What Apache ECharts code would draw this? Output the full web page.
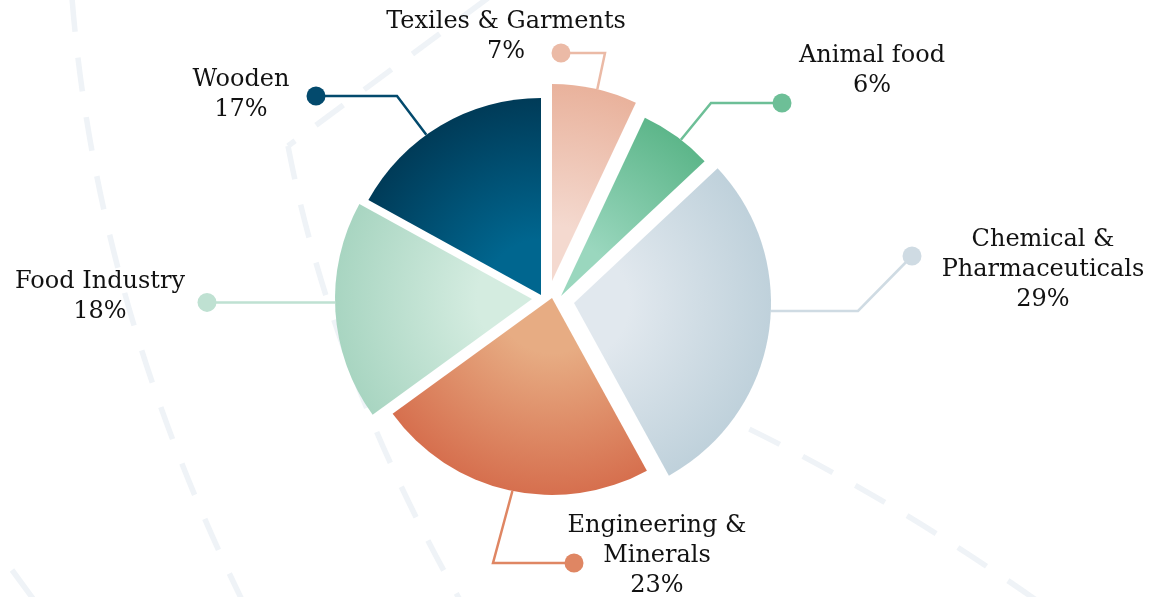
<!DOCTYPE html>
<html>
<head>
<meta charset="utf-8">
<script src="https://cdn.jsdelivr.net/npm/echarts@6/dist/echarts.min.js"></script>
<style>
  html, body { margin: 0; padding: 0; background: #ffffff; }
  #chart { width: 1157px; height: 597px; }
</style>
</head>
<body>
<div id="chart"></div>
<script>
// Sector names and their shares (percent of total)
const categories = [
  'Texiles & Garments',
  'Animal food',
  'Chemical &\nPharmaceuticals',
  'Engineering &\nMinerals',
  'Food Industry',
  'Wooden'
];
const shares = [7, 6, 29, 23, 18, 17];

// Radial fills: light near the centre, deeper at the rim
const innerColors = ['#f4d9cf', '#9ad7be', '#e1e8ee', '#e7ac83', '#d4ece0', '#00668f'];
const outerColors = ['#e9b29c', '#5db68a', '#bfd1db', '#d66f4e', '#a8d5c1', '#003b58'];
const lineColors  = ['#ebbaa6', '#6dbf97', '#cfdbe3', '#df8663', '#bfe1d2', '#034a6d'];

// Layout: every sector is pulled out from the middle by its own amount
const R = 197;
const sectorCentres = [[552, 281], [561, 296], [574, 303], [552, 298], [532, 299], [541, 295]];
// label block centres
const labelSpots = [[506, 37], [872, 71], [1043, 270], [657, 556], [100, 297], [241, 95]];
// leader lines: angle on the rim (deg, clockwise from 12 o'clock), elbow, end
const leaders = [
  { a: 13.3,  elbow: [605, 53],    end: [561, 53] },
  { a: 37.5,  elbow: [711, 103],   end: [782, 103] },
  { a: 92.3,  elbow: [858, 311],   end: [912, 256] },
  { a: 191.6, elbow: [493, 563],   end: [574, 563] },
  { a: 269,   elbow: [270, 302.4], end: [207, 302.4] },
  { a: 324.4, elbow: [397, 96],    end: [316, 96] }
];

function rimPoint(i) {
  const c = sectorCentres[i];
  const rad = leaders[i].a * Math.PI / 180;
  return [c[0] + R * Math.sin(rad), c[1] - R * Math.cos(rad)];
}

const chart = echarts.init(document.getElementById('chart'), null, { renderer: 'canvas' });

const series = categories.map(function (name, i) {
  return {
    type: 'pie',
    silent: true,
    animation: false,
    center: sectorCentres[i],
    radius: R,
    startAngle: 90,
    clockwise: true,
    avoidLabelOverlap: false,
    label: {
      show: true,
      position: 'outside',
      formatter: '{b}\n{d}%',
      fontFamily: 'DejaVu Serif',
      fontSize: 24,
      lineHeight: 30,
      color: '#121212',
      align: 'center'
    },
    labelLine: {
      show: true,
      smooth: false,
      lineStyle: { color: lineColors[i], width: 2.5 }
    },
    labelLayout: function () {
      const L = leaders[i];
      return {
        x: labelSpots[i][0],
        y: labelSpots[i][1],
        align: 'center',
        verticalAlign: 'middle',
        labelLinePoints: [rimPoint(i), L.elbow.slice(), L.end.slice()]
      };
    },
    data: categories.map(function (n, j) {
      if (j === i) {
        return {
          name: n,
          value: shares[j],
          itemStyle: {
            color: {
              type: 'radial',
              x: sectorCentres[i][0],
              y: sectorCentres[i][1],
              r: R,
              global: true,
              colorStops: [
                { offset: 0, color: innerColors[i] },
                { offset: 0.28, color: innerColors[i] },
                { offset: 1, color: outerColors[i] }
              ]
            }
          }
        };
      }
      return {
        name: n,
        value: shares[j],
        itemStyle: { color: 'rgba(0,0,0,0)' },
        label: { show: false },
        labelLine: { show: false }
      };
    })
  };
});

// faint dashed backdrop strokes
const dash = { stroke: '#eff3f7', lineWidth: 5.5, lineDash: [34, 26], fill: null };
const backdrop = [
  { type: 'bezierCurve', z: -5, shape: { x1: 72, y1: -2, cpx1: 96, cpy1: 300, x2: 242, y2: 600 }, style: dash },
  { type: 'polyline', z: -5, shape: { points: [[488, -2], [288, 146]] }, style: dash },
  { type: 'bezierCurve', z: -5, shape: { x1: 288, y1: 146, cpx1: 331, cpy1: 371, x2: 460, y2: 600 }, style: dash },
  { type: 'bezierCurve', z: -5, shape: { x1: 640, y1: 380, cpx1: 836, cpy1: 460, x2: 1036, y2: 600 }, style: dash },
  { type: 'line', z: -5, shape: { x1: 12, y1: 570, x2: 34, y2: 600 }, style: { stroke: '#eff3f7', lineWidth: 5.5 } }
];

// end dots of the leader lines
const dots = leaders.map(function (L, i) {
  return {
    type: 'circle',
    z: 100,
    shape: { cx: L.end[0], cy: L.end[1], r: 9.5 },
    style: { fill: lineColors[i] }
  };
});

chart.setOption({
  backgroundColor: '#ffffff',
  animation: false,
  graphic: { elements: backdrop.concat(dots) },
  series: series
});
</script>
</body>
</html>
